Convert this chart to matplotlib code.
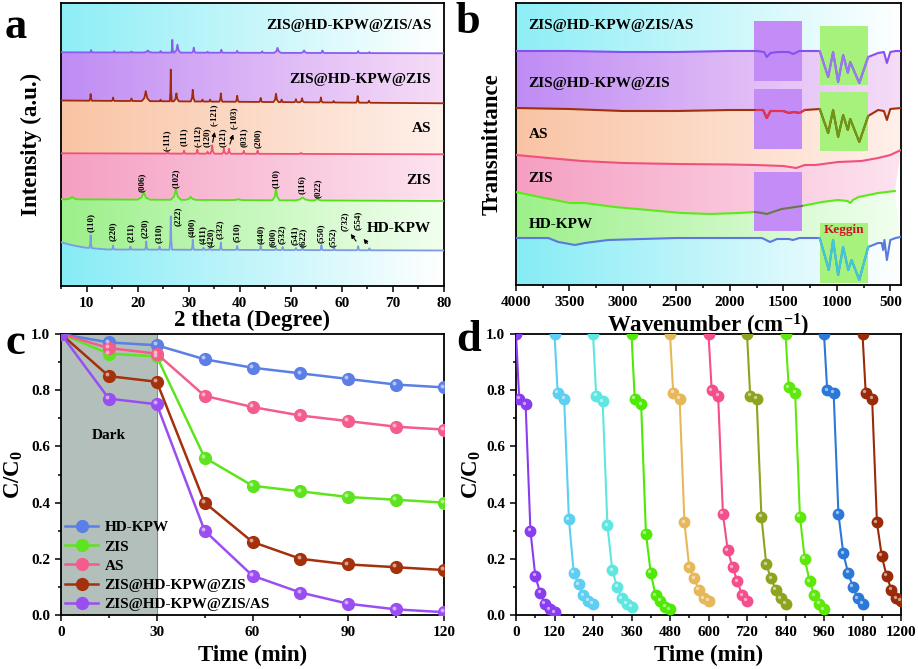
import numpy as np
import matplotlib
matplotlib.use('Agg')
import matplotlib.pyplot as plt
from matplotlib.patches import Polygon, Rectangle
from matplotlib.colors import LinearSegmentedColormap
from matplotlib.ticker import MultipleLocator
from matplotlib.transforms import offset_copy

plt.rcParams['font.family'] = ['Liberation Serif', 'DejaVu Serif']
plt.rcParams['font.weight'] = 'bold'
plt.rcParams['axes.labelweight'] = 'bold'
plt.rcParams['mathtext.fontset'] = 'custom'
plt.rcParams['mathtext.rm'] = 'Liberation Serif:bold'
plt.rcParams['mathtext.bf'] = 'Liberation Serif:bold'
plt.rcParams['mathtext.it'] = 'Liberation Serif:bold:italic'
plt.rcParams['mathtext.default'] = 'bf'

# ---------------- (a) XRD: baselines + peak tables (2theta, height, half width) ----------------
zisas_bx, zisas_by = [5, 80], [233.7, 232.7]
zisas_pos = [10.9, 15.4, 18.8, 22.0, 24.5, 26.8, 27.8, 31.0, 33.7, 36.4, 39.5, 44.4, 47.4, 52.6, 56.2, 63.2, 65.4]
zisas_h = [2.3, 1.5, 1.0, 2.0, 1.5, 12.7, 8.0, 5.0, 1.0, 3.0, 2.0, 1.5, 5.0, 2.5, 2.5, 2.0, 1.0]
zisas_w = [0.25, 0.25, 0.25, 0.8, 0.25, 0.2, 0.6, 0.35, 0.25, 0.3, 0.3, 0.3, 0.7, 0.6, 0.35, 0.3, 0.3]

zhz_bx, zhz_by = [5, 80], [185.5, 182.7]
zhz_pos = [10.8, 15.2, 18.8, 21.6, 24.5, 26.5, 27.6, 30.8, 32.7, 34.2, 36.3, 39.5, 44.1, 47.1, 48.2, 51.0, 52.2, 55.9, 58.4, 63.1, 65.3]
zhz_h = [6.7, 3.3, 2.5, 10.0, 1.5, 31.7, 8.0, 11.7, 2.0, 2.0, 8.3, 6.0, 4.0, 8.3, 2.5, 3.0, 4.0, 5.0, 1.5, 6.7, 2.0]
zhz_w = [0.25, 0.25, 0.25, 0.8, 0.25, 0.2, 0.5, 0.4, 0.25, 0.25, 0.3, 0.3, 0.3, 0.5, 0.25, 0.3, 0.4, 0.3, 0.25, 0.3, 0.3]

as_bx, as_by = [5, 80], [132.7, 131.7]
as_pos = [25.9, 29.1, 31.7, 33.7, 34.6, 36.9, 37.9, 40.8, 43.5, 52.0]
as_h = [1.5, 3.0, 4.0, 2.0, 8.3, 5.0, 5.0, 3.0, 3.3, 1.0]
as_w = [0.3, 0.3, 0.3, 0.3, 0.4, 0.35, 0.35, 0.3, 0.3, 0.4]

zis_bx, zis_by = [5, 80], [86.7, 85.0]
zis_pos = [7.2, 21.2, 27.5, 30.4, 39.7, 47.1, 52.3, 55.2]
zis_h = [2.5, 7.3, 10.7, 3.0, 1.0, 11.7, 3.0, 2.0]
zis_w = [1.2, 1.2, 1.0, 1.0, 1.0, 0.7, 1.5, 0.8]

hd_bx, hd_by = [5, 7, 9.5, 14, 80], [43.7, 41.0, 38.5, 36.5, 35.5]
hd_pos = [10.8, 15.2, 18.6, 21.7, 24.3, 26.5, 30.8, 32.9, 34.1, 36.3, 39.5, 44.1, 47.1, 48.4, 51.0, 52.3, 56.0, 58.5, 63.2, 65.4]
hd_h = [13.0, 4.0, 3.0, 8.3, 3.0, 33.3, 10.0, 2.0, 2.0, 7.3, 4.0, 4.0, 2.0, 3.0, 2.0, 3.0, 5.0, 2.0, 4.0, 2.0]
hd_w = [0.25] * 20

xrd_names = ['ZIS@HD-KPW@ZIS/AS', 'ZIS@HD-KPW@ZIS', 'AS', 'ZIS', 'HD-KPW']
xrd_label_y = [261, 206, 158, 106, 57.5]

hd_hkl = ['(110)', '(220)', '(211)', '(220)', '(310)', '(222)', '(400)', '(411)', '(420)', '(332)',
          '(510)', '(440)', '(600)', '(532)', '(541)', '(622)', '(550)', '(552)', '(732)', '(554)']
hd_hkl_x = [10.8, 15.2, 18.6, 21.4, 24.1, 27.8, 30.7, 32.8, 34.3, 36.1, 39.4, 44.1, 46.5, 48.2, 50.7, 52.4, 55.9, 58.3, 60.5, 63.1]
hd_hkl_y = [64, 55, 54, 58, 53, 70, 58.5, 51, 49, 57, 53.5, 52, 48.5, 52, 51, 49, 53, 49, 65, 66]
zis_hkl = ['(006)', '(102)', '(110)', '(116)', '(022)']
zis_hkl_x = [20.9, 27.4, 47.1, 52.2, 55.2]
zis_hkl_y = [104, 108, 107, 101, 98]
as_hkl = ['(-111)', '(111)', '(-112)', '(120)', '(-121)', '(121)', '(-103)', '(031)', '(200)']
as_hkl_x = [25.8, 29.0, 31.7, 33.5, 35.0, 36.6, 38.9, 40.85, 43.5]
as_hkl_y = [146, 149, 150, 149, 171, 149, 168, 149, 148]

# ---------------- (b) FTIR: wavenumber / transmittance (a.u.) ----------------
ir_w_zisas = [4000, 3500, 3000, 2500, 2000, 1750, 1680, 1655, 1620, 1550, 1450, 1410, 1350, 1160, 1081, 1035,
              988, 941, 897, 875, 790, 707, 614, 560, 532, 500, 450, 400]
ir_t_zisas = [234, 234, 233, 233, 234, 234, 233, 228, 232, 233, 233, 231, 234, 234, 208, 233,
              203, 230, 212, 223, 202, 228, 232, 233, 222, 233, 234, 234]
ir_w_zhz = [4000, 3500, 3000, 2500, 2000, 1750, 1690, 1655, 1620, 1500, 1450, 1400, 1350, 1300, 1160, 1081,
            1035, 988, 941, 897, 875, 790, 707, 614, 560, 532, 500, 400]
ir_t_zhz = [177, 176, 174, 174, 175, 175, 175, 167, 174, 174, 172, 173, 172, 175, 176, 152,
            175, 148, 170, 155, 166, 143, 169, 175, 174, 165, 176, 177]
ir_w_as = [4000, 3698, 3385, 3000, 2500, 2000, 1764, 1500, 1380, 1300, 1200, 988, 770, 614, 500, 400]
ir_t_as = [130, 127, 124, 122, 121, 120.5, 120, 119, 117, 120, 120, 123, 124, 127, 130, 135]
ir_w_zis = [4000, 3825, 3638, 3497, 3357, 3076, 2764, 2451, 2185, 1920, 1764, 1700, 1655, 1600, 1515, 1327,
            1140, 988, 900, 875, 850, 797, 614, 458]
ir_t_zis = [93, 89, 85, 82, 82, 78, 75, 72, 71, 72, 73, 72, 71, 73, 76, 79,
            83, 85, 84, 82, 85, 88, 92, 94]
ir_w_hd = [4000, 3698, 3604, 3448, 3357, 3138, 2500, 2000, 1700, 1624, 1560, 1450, 1410, 1350, 1160, 1075,
           1035, 988, 941, 893, 862, 790, 707, 614, 580, 567, 555, 532, 500, 450, 408]
ir_t_hd = [47, 47, 43, 40, 42, 45, 47, 47, 47, 43, 46, 46, 45, 47, 47, 15,
           45, 10, 38, 15, 25, 5, 38, 42, 42, 35, 45, 25, 45, 47, 48]
ir_label_y = [259, 201, 150, 106, 61]

# ---------------- (c) degradation ----------------
t_c = [0, 15, 30, 45, 60, 75, 90, 105, 120]
c_names = ['HD-KPW', 'ZIS', 'AS', 'ZIS@HD-KPW@ZIS', 'ZIS@HD-KPW@ZIS/AS']
hdkpw_c = [1.0, 0.97, 0.96, 0.91, 0.88, 0.86, 0.84, 0.82, 0.81]
zis_c = [1.0, 0.93, 0.92, 0.56, 0.46, 0.44, 0.42, 0.41, 0.40]
as_c = [1.0, 0.95, 0.93, 0.78, 0.74, 0.71, 0.69, 0.67, 0.66]
zhz_c = [1.0, 0.85, 0.83, 0.40, 0.26, 0.20, 0.18, 0.17, 0.16]
zhzas_c = [1.0, 0.77, 0.75, 0.30, 0.14, 0.08, 0.04, 0.02, 0.01]
c_colors = ['#5b7fe6', '#5ee41e', '#f45c8c', '#a4300c', '#9a4ef2']

# ---------------- (d) cycling ----------------
t_cycle = [0, 10, 30, 45, 60, 75, 90, 105, 120]
cycles = [
    [1.0, 0.77, 0.75, 0.30, 0.14, 0.08, 0.04, 0.02, 0.01],
    [1.0, 0.79, 0.77, 0.34, 0.15, 0.11, 0.07, 0.05, 0.04],
    [1.0, 0.78, 0.76, 0.32, 0.16, 0.10, 0.06, 0.04, 0.03],
    [1.0, 0.77, 0.75, 0.29, 0.15, 0.07, 0.05, 0.03, 0.02],
    [1.0, 0.79, 0.77, 0.33, 0.17, 0.13, 0.09, 0.06, 0.05],
    [1.0, 0.80, 0.78, 0.36, 0.23, 0.17, 0.12, 0.07, 0.05],
    [1.0, 0.78, 0.77, 0.35, 0.18, 0.13, 0.09, 0.06, 0.04],
    [1.0, 0.81, 0.79, 0.35, 0.20, 0.12, 0.07, 0.04, 0.02],
    [1.0, 0.80, 0.79, 0.36, 0.22, 0.15, 0.10, 0.06, 0.04],
    [1.0, 0.79, 0.77, 0.33, 0.21, 0.14, 0.09, 0.06, 0.05],
]
d_colors = ['#8a3cf0', '#5ccff2', '#5ee6e0', '#4eea06', '#e6b85a',
            '#f54e8c', '#8da41e', '#5ee80c', '#2c78d8', '#9a2a08']

W, H = 918, 669
fig = plt.figure(figsize=(W / 100, H / 100), dpi=100)


def px_axes(l, t, r, b):
    return fig.add_axes([l / W, 1 - b / H, (r - l) / W, (b - t) / H])


def xrd_line(bx, by, pos, h, w):
    pts = list(zip(bx, by))
    for p, hh, ww in zip(pos, h, w):
        for dx, f in ((-ww, 0), (-0.35 * ww, 0.3), (0, 1), (0.35 * ww, 0.3), (ww, 0)):
            pts.append((p + dx, np.interp(p + dx, bx, by) + f * hh))
    pts.sort()
    return np.array([q[0] for q in pts]), np.array([q[1] for q in pts])


def band(ax, upper, lower, c_left, c_right, extent):
    verts = list(zip(*upper)) + list(zip(*lower))[::-1]
    poly = Polygon(verts, closed=True, transform=ax.transData, fc='none', ec='none')
    cmap = LinearSegmentedColormap.from_list('g', [c_left, c_right])
    im = ax.imshow(np.linspace(0, 1, 256).reshape(1, -1), cmap=cmap, extent=extent,
                   aspect='auto', zorder=0, interpolation='bilinear')
    im.set_clip_path(poly)


def style(ax):
    for s in ax.spines.values():
        s.set_linewidth(1.3)
    ax.tick_params(which='both', direction='out', width=1.1, labelsize=11, top=False, right=False)
    ax.tick_params(which='major', length=4.5)
    ax.tick_params(which='minor', length=2.5)


band_cols = [('#8eeef6', '#ffffff'), ('#bf8cf4', '#f6dcf7'), ('#f9c4a4', '#fff0ea'),
             ('#f59fc2', '#fde3ef'), ('#9cf08a', '#f2fff0'), ('#86ecf6', '#ffffff')]

# ---------------- panel a ----------------
axa = px_axes(61, 3, 444, 286)
xrd = [xrd_line(zisas_bx, zisas_by, zisas_pos, zisas_h, zisas_w),
       xrd_line(zhz_bx, zhz_by, zhz_pos, zhz_h, zhz_w),
       xrd_line(as_bx, as_by, as_pos, as_h, as_w),
       xrd_line(zis_bx, zis_by, zis_pos, zis_h, zis_w),
       xrd_line(hd_bx, hd_by, hd_pos, hd_h, hd_w)]
xrd_colors = ['#8c5cf0', '#a02a0a', '#f0507a', '#55e01a', '#7d9ae8']
bounds = [([5, 80], [283, 283])] + xrd + [([5, 80], [0, 0])]
for i in range(6):
    band(axa, bounds[i], bounds[i + 1], band_cols[i][0], band_cols[i][1], (5, 80, 0, 283))
for (x, y), c in zip(xrd, xrd_colors):
    axa.plot(x, y, color=c, lw=1.3, zorder=3)
for name, y in zip(xrd_names, xrd_label_y):
    axa.text(77.5, y, name, ha='right', va='center', fontsize=11, zorder=5)
for labs, xs, ys in ((hd_hkl, hd_hkl_x, hd_hkl_y), (zis_hkl, zis_hkl_x, zis_hkl_y), (as_hkl, as_hkl_x, as_hkl_y)):
    for s, x, y in zip(labs, xs, ys):
        axa.text(x, y, s, rotation=90, ha='center', va='center', fontsize=6.5, zorder=5)
for tail, head in (((63.1, 42.7), (61.4, 54.3)), ((65.35, 40.3), (63.9, 49.3)),
                   ((34.6, 141), (35.2, 156.7)), ((37.9, 139.3), (38.9, 154.3))):
    axa.annotate('', xy=head, xytext=tail,
                 arrowprops=dict(arrowstyle='-|>', color='black', lw=0.8, mutation_scale=6), zorder=5)
axa.set_xlim(5, 80)
axa.set_ylim(0, 283)
axa.set_yticks([])
axa.xaxis.set_major_locator(MultipleLocator(10))
axa.xaxis.set_minor_locator(MultipleLocator(5))
style(axa)
axa.set_xlabel('2 theta (Degree)', fontsize=16.5)
axa.xaxis.set_label_coords(0.5, -0.085)
axa.set_ylabel('Intensity (a.u.)', fontsize=16.5)
axa.yaxis.set_label_coords(-0.05, 0.5)

# ---------------- panel b ----------------
axb = px_axes(516, 3, 901, 285)
irs = [(ir_w_zisas, ir_t_zisas), (ir_w_zhz, ir_t_zhz), (ir_w_as, ir_t_as), (ir_w_zis, ir_t_zis), (ir_w_hd, ir_t_hd)]
ir_colors = ['#8850f0', '#a0300c', '#f0507e', '#5ce81a', '#5a78e0']
bounds = [([4000, 400], [282, 282])] + irs + [([4000, 400], [0, 0])]
for i in range(6):
    band(axb, bounds[i], bounds[i + 1], band_cols[i][0], band_cols[i][1], (4000, 400, 0, 282))
for y0, y1 in ((204, 264), (135.7, 195.7), (54.3, 113.3)):
    axb.add_patch(Rectangle((1325, y0), 449, y1 - y0, fc='#c48cf6', ec='none', zorder=1))
for y0, y1 in ((199.7, 259), (134, 193.3), (1.7, 61.7)):
    axb.add_patch(Rectangle((707, y0), 453, y1 - y0, fc='#a6f27c', ec='none', zorder=1))
for (w, t), c in zip(irs, ir_colors):
    axb.plot(w, t, color=c, lw=1.5, zorder=3)


def segment(ax, w, t, lo, hi, color, ls='-'):
    w = np.array(w)
    t = np.array(t)
    m = (w >= lo) & (w <= hi)
    ax.plot(w[m], t[m], color=color, lw=1.5, ls=ls, zorder=4)


segment(axb, ir_w_zisas, ir_t_zisas, 707, 1160, '#9a78f0')
segment(axb, ir_w_zhz, ir_t_zhz, 707, 1160, '#6b9a12')
segment(axb, ir_w_hd, ir_t_hd, 707, 1160, '#3ec8d8')
segment(axb, ir_w_zhz, ir_t_zhz, 1300, 1750, '#e83050')
segment(axb, ir_w_zis, ir_t_zis, 1327, 1764, '#7a6a6a')
for name, y in zip(xrd_names, ir_label_y):
    axb.text(3881, y, name, ha='left', va='center', fontsize=11, zorder=5)
axb.text(935, 55, 'Keggin', color='#d0102a', ha='center', va='center', fontsize=9.5, zorder=5)
axb.set_xlim(4000, 400)
axb.set_ylim(0, 282)
axb.set_yticks([])
axb.xaxis.set_major_locator(MultipleLocator(500))
axb.xaxis.set_minor_locator(MultipleLocator(250))
style(axb)
axb.set_xlabel('Wavenumber (cm$^{-1}$)', fontsize=16.5)
axb.xaxis.set_label_coords(0.5, -0.096)
axb.set_ylabel('Transmittance', fontsize=16.5)
axb.yaxis.set_label_coords(-0.034, 0.5)

# ---------------- panel c ----------------
axc = px_axes(61, 334, 444, 615)
axc.axvspan(0, 30, color='#b3bfbb', zorder=0, lw=0)
axc.axvline(30, color='#7f8c89', lw=0.8, zorder=1)
axc.text(15, 0.64, 'Dark', ha='center', va='center', fontsize=11)
hl_c = offset_copy(axc.transData, fig=fig, x=-1.3, y=1.3, units='points')
for vals, c, name in zip([hdkpw_c, zis_c, as_c, zhz_c, zhzas_c], c_colors, c_names):
    axc.plot(t_c, vals, '-o', color=c, lw=1.8, ms=8.5, mec=c, label=name, zorder=3)
    axc.plot(t_c, vals, 'o', color='white', alpha=0.55, ms=2.8, mew=0, transform=hl_c, zorder=4)
axc.legend(loc='lower left', frameon=False, fontsize=11, handlelength=2.2, handletextpad=0.4,
           labelspacing=0.36, borderpad=0.1, borderaxespad=0.15)
axc.set_xlim(0, 120)
axc.set_ylim(0, 1.0)
axc.xaxis.set_major_locator(MultipleLocator(30))
axc.xaxis.set_minor_locator(MultipleLocator(15))
axc.yaxis.set_major_locator(MultipleLocator(0.2))
axc.yaxis.set_minor_locator(MultipleLocator(0.1))
axc.yaxis.set_major_formatter(plt.FormatStrFormatter('%.1f'))
style(axc)
axc.set_xlabel('Time (min)', fontsize=16.5)
axc.xaxis.set_label_coords(0.5, -0.107)
axc.set_ylabel('C/C$_0$', fontsize=16.5)
axc.yaxis.set_label_coords(-0.094, 0.5)

# ---------------- panel d ----------------
axd = px_axes(516, 334, 901, 615)
hl_d = offset_copy(axd.transData, fig=fig, x=-1.1, y=1.1, units='points')
for k, (vals, c) in enumerate(zip(cycles, d_colors)):
    t = [120 * k + dt for dt in t_cycle]
    axd.plot(t, vals, '-o', color=c, lw=1.5, ms=7.5, mec=c, zorder=3)
    axd.plot(t, vals, 'o', color='white', alpha=0.55, ms=2.4, mew=0, transform=hl_d, zorder=4)
axd.set_xlim(0, 1200)
axd.set_ylim(0, 1.0)
axd.xaxis.set_major_locator(MultipleLocator(120))
axd.xaxis.set_minor_locator(MultipleLocator(60))
axd.yaxis.set_major_locator(MultipleLocator(0.2))
axd.yaxis.set_minor_locator(MultipleLocator(0.1))
axd.yaxis.set_major_formatter(plt.FormatStrFormatter('%.1f'))
style(axd)
axd.set_xlabel('Time (min)', fontsize=16.5)
axd.xaxis.set_label_coords(0.5, -0.107)
axd.set_ylabel('C/C$_0$', fontsize=16.5)
axd.yaxis.set_label_coords(-0.086, 0.5)

# panel letters
for s, x, y in (('a', 16, 27), ('b', 468, 22), ('c', 15, 343), ('d', 469, 340)):
    fig.text(x / W, 1 - y / H, s, fontsize=32, ha='center', va='center')

fig.savefig('out.png', dpi=100)
